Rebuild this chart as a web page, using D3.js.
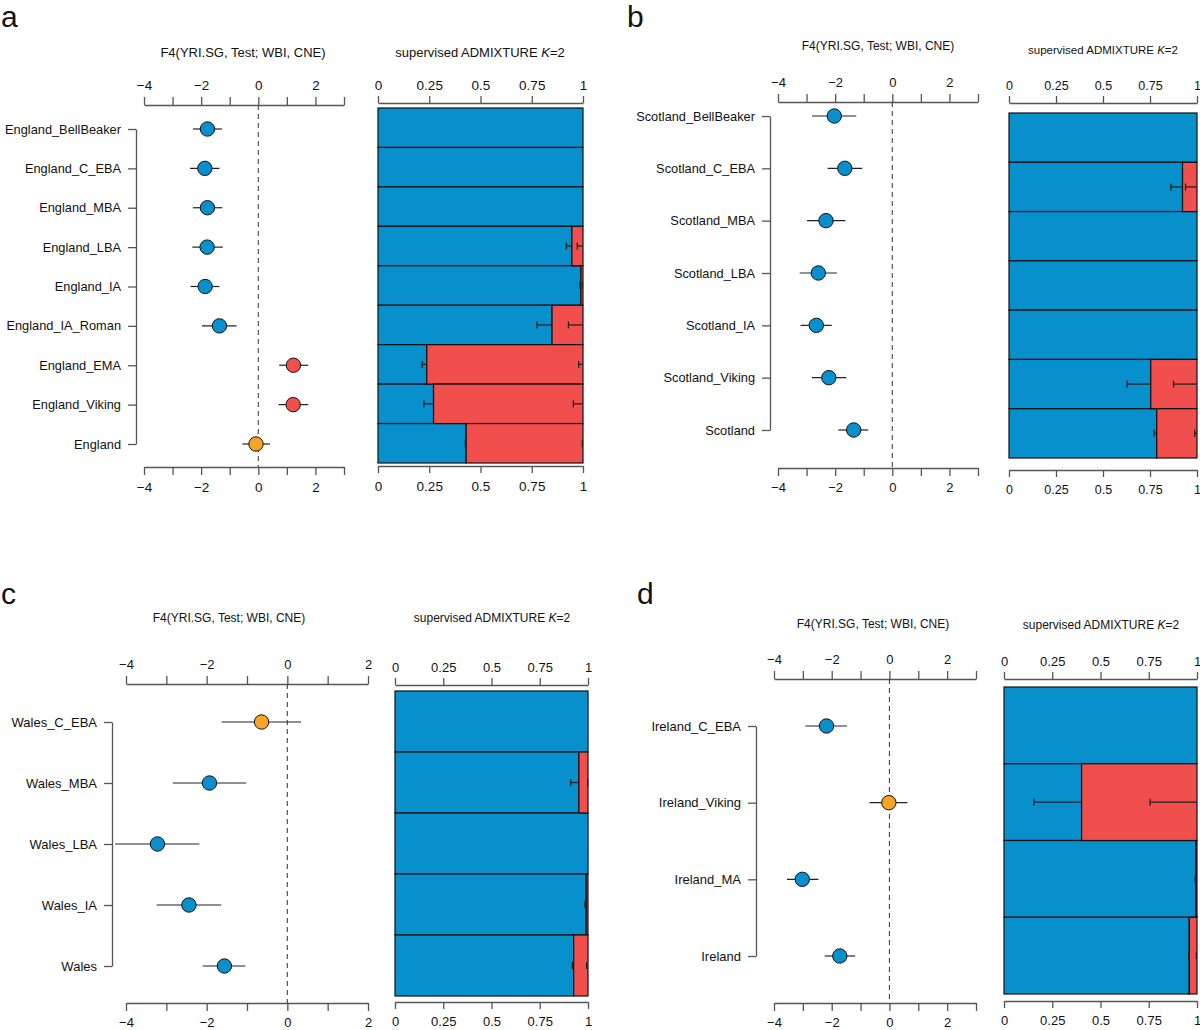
<!DOCTYPE html>
<html>
<head>
<meta charset="utf-8">
<script src="https://cdn.jsdelivr.net/npm/d3@7"></script>
<style>
body { margin: 0; background: #fff; }
text { font-family: "Liberation Sans", Arial, sans-serif; fill: #111; }
</style>
</head>
<body>
<svg id="fig" width="1200" height="1030"></svg>
<script>
// ---- panel a: England ----
var englandGroups = ['England_BellBeaker', 'England_C_EBA', 'England_MBA', 'England_LBA', 'England_IA',
	'England_IA_Roman', 'England_EMA', 'England_Viking', 'England'];
var englandF4 = [-1.78, -1.87, -1.78, -1.79, -1.86, -1.36, 1.23, 1.22, -0.08];
var englandF4Lo = [-2.29, -2.39, -2.29, -2.31, -2.37, -1.97, 0.73, 0.71, -0.56];
var englandF4Hi = [-1.27, -1.36, -1.26, -1.24, -1.36, -0.76, 1.75, 1.75, 0.41];
var englandSig = ['neg', 'neg', 'neg', 'neg', 'neg', 'neg', 'pos', 'pos', 'ns'];
var englandBlue = [1, 1, 1, 0.946, 0.99, 0.849, 0.238, 0.271, 0.43];
var englandBlueLo = [null, null, null, 0.919, 0.985, 0.775, 0.216, 0.224, 0.426];
var englandRedLo = [null, null, null, 0.972, 0.997, 0.929, 0.979, 0.953, 0.997];

// ---- panel b: Scotland ----
var scotlandGroups = ['Scotland_BellBeaker', 'Scotland_C_EBA', 'Scotland_MBA', 'Scotland_LBA', 'Scotland_IA',
	'Scotland_Viking', 'Scotland'];
var scotlandF4 = [-2.03, -1.66, -2.32, -2.59, -2.66, -2.22, -1.35];
var scotlandF4Lo = [-2.81, -2.26, -2.99, -3.24, -3.21, -2.81, -1.89];
var scotlandF4Hi = [-1.26, -1.05, -1.64, -1.94, -2.12, -1.61, -0.84];
var scotlandSig = ['neg', 'neg', 'neg', 'neg', 'neg', 'neg', 'neg'];
var scotlandBlue = [1, 0.923, 1, 1, 1, 0.754, 0.786];
var scotlandBlueLo = [null, 0.861, null, null, null, 0.628, 0.772];
var scotlandRedLo = [null, 0.939, null, null, null, 0.875, 0.988];

// ---- panel c: Wales ----
var walesGroups = ['Wales_C_EBA', 'Wales_MBA', 'Wales_LBA', 'Wales_IA', 'Wales'];
var walesF4 = [-0.64, -1.93, -3.22, -2.44, -1.56];
var walesF4Lo = [-1.63, -2.84, -4.27, -3.24, -2.10];
var walesF4Hi = [0.34, -1.02, -2.18, -1.64, -1.04];
var walesSig = ['ns', 'neg', 'neg', 'neg', 'neg'];
var walesBlue = [1, 0.953, 1, 0.991, 0.926];
var walesBlueLo = [null, 0.91, null, 0.984, 0.919];
var walesRedLo = [null, 0.998, null, null, 0.993];

// ---- panel d: Ireland ----
var irelandGroups = ['Ireland_C_EBA', 'Ireland_Viking', 'Ireland_MA', 'Ireland'];
var irelandF4 = [-2.18, -0.02, -3.02, -1.72];
var irelandF4Lo = [-2.91, -0.69, -3.55, -2.24];
var irelandF4Hi = [-1.47, 0.62, -2.46, -1.19];
var irelandSig = ['neg', 'ns', 'neg', 'neg'];
var irelandBlue = [1, 0.402, 0.995, 0.96];
var irelandBlueLo = [null, 0.155, 0.99, 0.957];
var irelandRedLo = [null, 0.757, null, 0.997];

// ticks
var f4Ticks = [-4, -3, -2, -1, 0, 1, 2, 3];
var f4TicksShort = [-4, -3, -2, -1, 0, 1, 2];
var f4Labels = [-4, -2, 0, 2];
var admixTicks = [0, 0.25, 0.5, 0.75, 1];
var admixLabels = ['0', '0.25', '0.5', '0.75', '1'];

var blue = '#0890cd', red = '#f04f4e', orange = '#f7a623';
var sigColor = d3.scaleOrdinal().domain(['neg', 'pos', 'ns']).range([blue, red, orange]);

var svg = d3.select('#fig');

function styleAxis(g, fs) {
	g.select('.domain').attr('stroke', '#555').attr('stroke-width', 1.3);
	g.selectAll('.tick line').attr('stroke', '#555').attr('stroke-width', 1.3);
	g.selectAll('.tick text').attr('font-size', fs).attr('fill', '#111')
		.attr('font-family', '"Liberation Sans", Arial, sans-serif');
}

function f4Panel(p) {
	var x = d3.scaleLinear().domain(p.domain).range([p.x0, p.x1]);
	var y = d3.scalePoint().domain(p.groups).range([p.y0, p.y1]);

	svg.append('text')
		.attr('x', p.titleX).attr('y', p.titleY)
		.attr('text-anchor', 'middle').attr('font-size', p.titleSize)
		.text('F4(YRI.SG, Test; WBI, CNE)');

	var fmt = function(d) { return f4Labels.indexOf(d) >= 0 ? d3.format('d')(d) : ''; };

	var top = svg.append('g')
		.attr('transform', 'translate(0,' + p.topY + ')')
		.call(d3.axisTop(x).tickValues(p.ticks).tickFormat(fmt).tickSize(8).tickSizeOuter(0).tickPadding(7));
	styleAxis(top, p.tickSize);

	var bottom = svg.append('g')
		.attr('transform', 'translate(0,' + p.bottomY + ')')
		.call(d3.axisBottom(x).tickValues(p.ticks).tickFormat(fmt).tickSize(8).tickSizeOuter(0).tickPadding(7));
	styleAxis(bottom, p.tickSize);

	var left = svg.append('g')
		.attr('transform', 'translate(' + p.bracketX + ',0)')
		.call(d3.axisLeft(y).tickSize(8).tickSizeOuter(0).tickPadding(7));
	styleAxis(left, p.labelSize);

	// zero line
	svg.append('line')
		.attr('x1', x(0)).attr('x2', x(0))
		.attr('y1', p.topY).attr('y2', p.bottomY)
		.attr('stroke', '#444').attr('stroke-width', 1.1)
		.attr('stroke-dasharray', '5,4');

	var rows = p.groups.map(function(g, i) {
		return {name: g, v: p.f4[i], lo: p.lo[i], hi: p.hi[i], sig: p.sig[i]};
	});

	svg.append('g').selectAll('line')
		.data(rows)
		.enter()
		.append('line')
		.attr('x1', function(d) { return x(d.lo); })
		.attr('x2', function(d) { return x(d.hi); })
		.attr('y1', function(d) { return y(d.name); })
		.attr('y2', function(d) { return y(d.name); })
		.attr('stroke', '#222').attr('stroke-width', 1.2);

	svg.append('g').selectAll('circle')
		.data(rows)
		.enter()
		.append('circle')
		.attr('cx', function(d) { return x(d.v); })
		.attr('cy', function(d) { return y(d.name); })
		.attr('r', 7.2)
		.attr('fill', function(d) { return sigColor(d.sig); })
		.attr('stroke', '#111').attr('stroke-width', 1);
}

function admixPanel(p) {
	var x = d3.scaleLinear().domain([0, 1]).range([p.x0, p.x1]);
	var y = d3.scaleBand().domain(p.groups).range([p.y0, p.y1]);

	var title = svg.append('text')
		.attr('x', p.titleX).attr('y', p.titleY)
		.attr('text-anchor', 'middle').attr('font-size', p.titleSize);
	title.append('tspan').text('supervised ADMIXTURE ');
	title.append('tspan').attr('font-style', 'italic').text('K');
	title.append('tspan').text('=2');

	var fmt = function(d, i) { return admixLabels[i]; };

	var top = svg.append('g')
		.attr('transform', 'translate(0,' + p.topY + ')')
		.call(d3.axisTop(x).tickValues(admixTicks).tickFormat(fmt).tickSize(7).tickSizeOuter(0).tickPadding(6));
	styleAxis(top, p.tickSize);

	var bottom = svg.append('g')
		.attr('transform', 'translate(0,' + p.bottomY + ')')
		.call(d3.axisBottom(x).tickValues(admixTicks).tickFormat(fmt).tickSize(7).tickSizeOuter(0).tickPadding(8));
	styleAxis(bottom, p.tickSize);

	var rows = p.groups.map(function(g, i) {
		return {name: g, b: p.blue[i], bLo: p.blueLo[i], rLo: p.redLo[i]};
	});

	var bars = svg.append('g');
	bars.selectAll('rect.blue')
		.data(rows)
		.enter()
		.append('rect')
		.attr('class', 'blue')
		.attr('x', x(0))
		.attr('y', function(d) { return y(d.name); })
		.attr('width', function(d) { return x(d.b) - x(0); })
		.attr('height', y.bandwidth())
		.attr('fill', blue).attr('stroke', '#111').attr('stroke-width', 1.2);

	bars.selectAll('rect.red')
		.data(rows.filter(function(d) { return d.b < 1; }))
		.enter()
		.append('rect')
		.attr('class', 'red')
		.attr('x', function(d) { return x(d.b); })
		.attr('y', function(d) { return y(d.name); })
		.attr('width', function(d) { return x(1) - x(d.b); })
		.attr('height', y.bandwidth())
		.attr('fill', red).attr('stroke', '#111').attr('stroke-width', 1.2);

	// whiskers: blue from lower bound up to the split, red from lower bound to 1
	var whisk = [];
	rows.forEach(function(d) {
		if (d.bLo != null) whisk.push({name: d.name, a: d.bLo, b: d.b});
		if (d.rLo != null) whisk.push({name: d.name, a: d.rLo, b: 1});
	});
	var wg = svg.append('g');
	wg.selectAll('line.w')
		.data(whisk)
		.enter()
		.append('line')
		.attr('x1', function(d) { return x(d.a); })
		.attr('x2', function(d) { return x(d.b); })
		.attr('y1', function(d) { return y(d.name) + y.bandwidth() / 2; })
		.attr('y2', function(d) { return y(d.name) + y.bandwidth() / 2; })
		.attr('stroke', '#222').attr('stroke-width', 1.3);
	wg.selectAll('line.cap')
		.data(whisk)
		.enter()
		.append('line')
		.attr('x1', function(d) { return x(d.a); })
		.attr('x2', function(d) { return x(d.a); })
		.attr('y1', function(d) { return y(d.name) + y.bandwidth() / 2 - 3.5; })
		.attr('y2', function(d) { return y(d.name) + y.bandwidth() / 2 + 3.5; })
		.attr('stroke', '#222').attr('stroke-width', 1.3);
}

// panel letters
var letters = [['a', 1, 27], ['b', 627, 27], ['c', 1, 604], ['d', 637, 604]];
svg.selectAll('text.letter')
	.data(letters)
	.enter()
	.append('text')
	.attr('class', 'letter')
	.attr('x', function(d) { return d[1]; })
	.attr('y', function(d) { return d[2]; })
	.attr('font-size', 30)
	.text(function(d) { return d[0]; });

f4Panel({groups: englandGroups, f4: englandF4, lo: englandF4Lo, hi: englandF4Hi, sig: englandSig,
	domain: [-4, 3], ticks: f4Ticks, x0: 144, x1: 344, y0: 129, y1: 444, topY: 105, bottomY: 467,
	bracketX: 136, titleX: 243, titleY: 57, titleSize: 13, tickSize: 13.5, labelSize: 12.8});
admixPanel({groups: englandGroups, blue: englandBlue, blueLo: englandBlueLo, redLo: englandRedLo,
	x0: 378, x1: 583, y0: 108, y1: 463, topY: 103, bottomY: 466,
	titleX: 480, titleY: 57, titleSize: 13, tickSize: 13.5});

f4Panel({groups: scotlandGroups, f4: scotlandF4, lo: scotlandF4Lo, hi: scotlandF4Hi, sig: scotlandSig,
	domain: [-4, 3], ticks: f4Ticks, x0: 778, x1: 978, y0: 116, y1: 430, topY: 102, bottomY: 468,
	bracketX: 770, titleX: 878, titleY: 50, titleSize: 12, tickSize: 13, labelSize: 12.8});
admixPanel({groups: scotlandGroups, blue: scotlandBlue, blueLo: scotlandBlueLo, redLo: scotlandRedLo,
	x0: 1009, x1: 1197, y0: 113, y1: 458, topY: 103, bottomY: 470,
	titleX: 1103, titleY: 54, titleSize: 11.5, tickSize: 12.5});

f4Panel({groups: walesGroups, f4: walesF4, lo: walesF4Lo, hi: walesF4Hi, sig: walesSig,
	domain: [-4, 2], ticks: f4TicksShort, x0: 126, x1: 368, y0: 722, y1: 966, topY: 684, bottomY: 1003,
	bracketX: 112, titleX: 229, titleY: 622, titleSize: 12, tickSize: 13, labelSize: 13});
admixPanel({groups: walesGroups, blue: walesBlue, blueLo: walesBlueLo, redLo: walesRedLo,
	x0: 395, x1: 588, y0: 691, y1: 996, topY: 685, bottomY: 1002,
	titleX: 492, titleY: 622, titleSize: 12, tickSize: 13});

f4Panel({groups: irelandGroups, f4: irelandF4, lo: irelandF4Lo, hi: irelandF4Hi, sig: irelandSig,
	domain: [-4, 3], ticks: f4Ticks, x0: 774, x1: 976, y0: 726, y1: 956, topY: 679, bottomY: 1003,
	bracketX: 756, titleX: 873, titleY: 628, titleSize: 12, tickSize: 13, labelSize: 13});
admixPanel({groups: irelandGroups, blue: irelandBlue, blueLo: irelandBlueLo, redLo: irelandRedLo,
	x0: 1004, x1: 1197, y0: 687, y1: 994, topY: 679, bottomY: 1001,
	titleX: 1101, titleY: 629, titleSize: 12, tickSize: 13});
</script>
</body>
</html>
